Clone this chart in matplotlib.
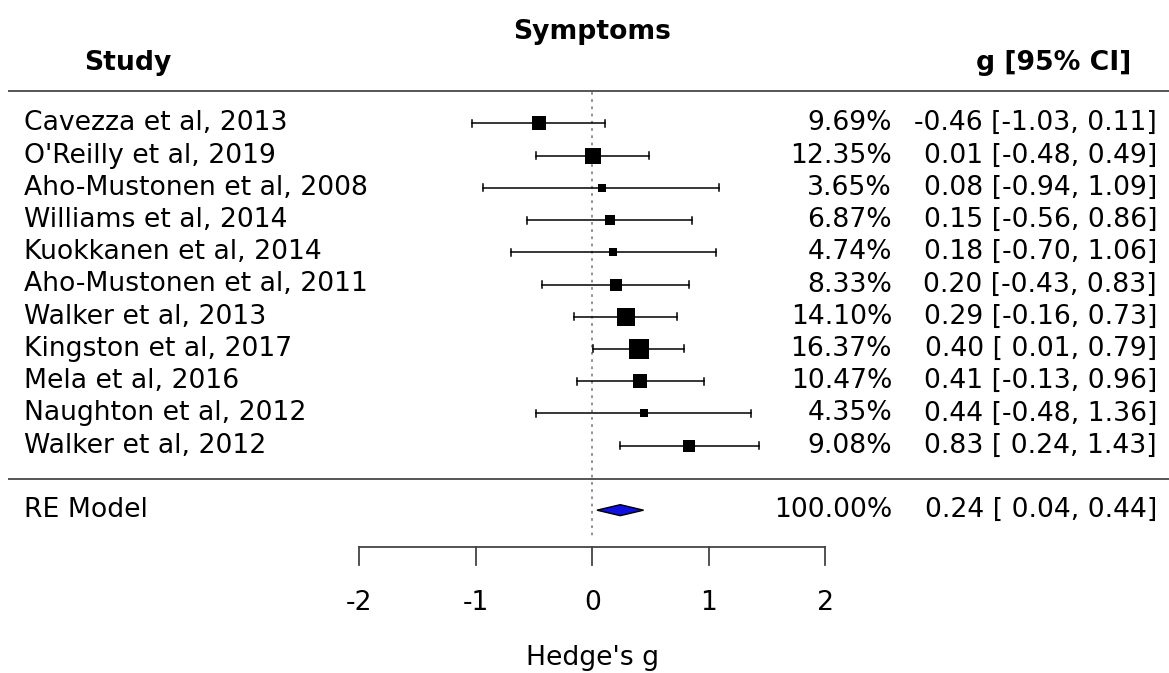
import matplotlib
matplotlib.use("Agg")
import matplotlib.pyplot as plt
from matplotlib.patches import Polygon

plt.rcParams['font.family'] = ['DejaVu Sans']

studies = ["Cavezza et al, 2013", "O'Reilly et al, 2019", "Aho-Mustonen et al, 2008",
           "Williams et al, 2014", "Kuokkanen et al, 2014", "Aho-Mustonen et al, 2011",
           "Walker et al, 2013", "Kingston et al, 2017", "Mela et al, 2016",
           "Naughton et al, 2012", "Walker et al, 2012"]
estimates = [-0.46, 0.01, 0.08, 0.15, 0.18, 0.20, 0.29, 0.40, 0.41, 0.44, 0.83]
ci_lower = [-1.03, -0.48, -0.94, -0.56, -0.70, -0.43, -0.16, 0.01, -0.13, -0.48, 0.24]
ci_upper = [0.11, 0.49, 1.09, 0.86, 1.06, 0.83, 0.73, 0.79, 0.96, 1.36, 1.43]
weights = [9.69, 12.35, 3.65, 6.87, 4.74, 8.33, 14.10, 16.37, 10.47, 4.35, 9.08]

re_label = "RE Model"
re_estimate = 0.24
re_lower = 0.04
re_upper = 0.44
re_weight = 100.00

xticks = [-2, -1, 0, 1, 2]
xlabel = "Hedge's g"
title = "Symptoms"

W, H = 1169, 673
fig = plt.figure(figsize=(W / 100, H / 100), dpi=100)
ax = fig.add_axes([0, 0, 1, 1])
ax.set_axis_off()

# horizontal scale: pixels per unit of g, position of zero
ppu, x0 = 116.5, 592.3
# vertical scale: pixels per row, position of first row
ppr, y0 = 32.24, 123.3
ax.set_xlim(-x0 / ppu, (W - x0) / ppu)
ax.set_ylim((H - y0) / ppr, -y0 / ppr)

def px(xp):
    return (xp - x0) / ppu

def row(yp):
    return (yp - y0) / ppr

fs = 19.2
n = len(studies)
re_row = n + 1

# reference line at zero
ax.plot([0, 0], [row(92), row(538)], color='#888888', lw=1.3, ls=(0, (1.5, 2.5)), zorder=1)

# header and separator rules
for yy in (row(91), row(479)):
    ax.plot([px(8), px(W)], [yy, yy], color='#555555', lw=1.4, solid_capstyle='butt')

cap = 3.5 / ppr
for i in range(n):
    ax.plot([ci_lower[i], ci_upper[i]], [i, i], color='black', lw=1.1, zorder=2)
    for e in (ci_lower[i], ci_upper[i]):
        ax.plot([e, e], [i - cap, i + cap], color='black', lw=1.1, zorder=2)
    side = 3.3 + 1.02 * weights[i]
    ax.scatter([estimates[i]], [i], marker='s', s=(side * 0.72) ** 2,
               color='black', linewidths=0, zorder=3)
    ax.text(px(24), i, studies[i], ha='left', va='center', fontsize=fs)
    ax.text(px(892), i, f"{weights[i]:.2f}%", ha='right', va='center', fontsize=fs)
    lo = f"{ci_lower[i]:.2f}" if ci_lower[i] < 0 else f" {ci_lower[i]:.2f}"
    ax.text(px(1157), i, f"{estimates[i]:.2f} [{lo}, {ci_upper[i]:.2f}]",
            ha='right', va='center', fontsize=fs)

# pooled estimate diamond
dh = 5.5 / ppr
diamond = Polygon([[re_lower, re_row], [re_estimate, re_row - dh],
                   [re_upper, re_row], [re_estimate, re_row + dh]],
                  closed=True, facecolor='#1010e0', edgecolor='black', lw=1.0, zorder=3)
ax.add_patch(diamond)
ax.text(px(24), re_row, re_label, ha='left', va='center', fontsize=fs)
ax.text(px(892), re_row, f"{re_weight:.2f}%", ha='right', va='center', fontsize=fs)
ax.text(px(1157), re_row, f"{re_estimate:.2f} [ {re_lower:.2f}, {re_upper:.2f}]",
        ha='right', va='center', fontsize=fs)

# headers
ax.text(0, row(32), title, ha='center', va='center', fontsize=fs, fontweight='bold')
ax.text(px(84), row(63), "Study", ha='left', va='center', fontsize=fs, fontweight='bold')
ax.text(px(1131), row(63), "g [95% CI]", ha='right', va='center', fontsize=fs, fontweight='bold')

# x axis
ya = row(547)
ax.plot([xticks[0], xticks[-1]], [ya, ya], color='#444444', lw=1.3)
for t in xticks:
    ax.plot([t, t], [ya, row(565)], color='#444444', lw=1.3)
    ax.text(t, row(603), f"{t}", ha='center', va='center', fontsize=fs)
ax.text(0, row(658), xlabel, ha='center', va='center', fontsize=fs)

fig.savefig("out.png", dpi=100, facecolor='white')
